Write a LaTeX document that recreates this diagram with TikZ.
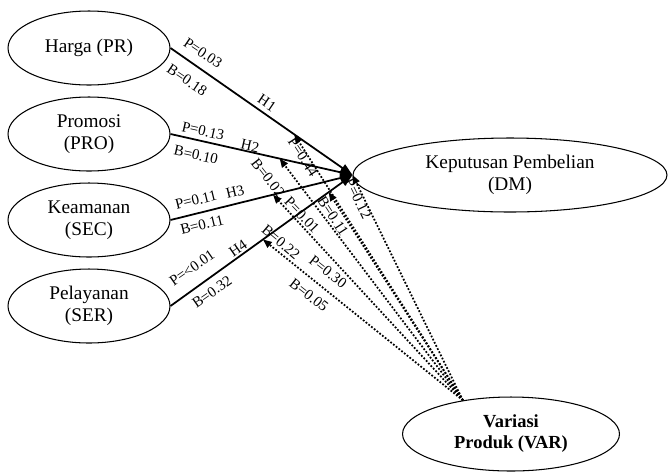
\documentclass[tikz,border=0pt]{standalone}
\usepackage{fontspec}
\setmainfont{Liberation Serif}
\usetikzlibrary{positioning, arrows.meta, shapes.geometric}

\begin{document}
\begin{tikzpicture}[x=0.02cm, y=-0.02cm,
  construct/.style={draw, ellipse, semithick, minimum width=3.24cm, minimum height=1.48cm,
                    inner sep=0pt, align=center, font=\fontsize{11}{12.5}\selectfont},
  hyp/.style={line width=1pt, -{Triangle[length=7pt, width=5pt]}},
  moder/.style={line width=1pt, densely dotted, -{Triangle[length=5pt, width=4pt]}},
  coef/.style={font=\fontsize{8.5}{10}\selectfont, inner sep=1pt},
]
  \useasboundingbox (0,0) rectangle (668,471);

  % Constructs
  \node[construct] (pr)  at (89,48)  {Harga (PR)};
  \node[construct] (pro) at (89,134) {Promosi\\(PRO)};
  \node[construct] (sec) at (89,220) {Keamanan\\(SEC)};
  \node[construct] (ser) at (89,306) {Pelayanan\\(SER)};
  \node[construct, minimum width=6.28cm] (dm) at (510,175) {Keputusan Pembelian\\(DM)};
  \node[construct, minimum width=4.34cm,
        font=\fontsize{10.5}{12}\selectfont\bfseries] (var) at (511,434) {Variasi\\Produk (VAR)};

  % Hypotheses H1-H4
  \draw[hyp] (pr.east)  -- coordinate[pos=.68] (m1) (dm.west);
  \draw[hyp] (pro.east) -- coordinate[pos=.6] (m2) (dm.west);
  \draw[hyp] (sec.east) -- coordinate[pos=.563] (m3) (dm.west);
  \draw[hyp] (ser.east) -- coordinate[pos=.508] (m4) coordinate[pos=.869] (m5) (dm.west);

  % Moderation by VAR
  \draw[moder] (var.145) -- (m1);
  \draw[moder] (var.145) -- (m2);
  \draw[moder] (var.145) -- (m3);
  \draw[moder] (var.145) -- (m4);
  \draw[moder] (var.145) -- (m5);
  \draw[moder] (var.145) -- (dm.west);

  % Coefficients on H1-H4
  \node[coef, rotate=-34] (p1) at (203,53)  {P=0.03};
  \node[coef, rotate=-34] (b1) at (187,80)  {B=0.18};
  \node[coef, rotate=-34] (h1) at (267,103) {H1};
  \node[coef, rotate=-12.6] (p2) at (203,131) {P=0.13};
  \node[coef, rotate=-12.6] (b2) at (196,155) {B=0.10};
  \node[coef, rotate=-12.6] (h2) at (250,146) {H2};
  \node[coef, rotate=13.8] (p3) at (196,200) {P=0.11};
  \node[coef, rotate=13.8] (h3) at (235,192) {H3};
  \node[coef, rotate=13.8] (b3) at (202,225) {B=0.11};
  \node[coef, rotate=35] (p4) at (192,268) {P=<0.01};
  \node[coef, rotate=35] (h4) at (238,248) {H4};
  \node[coef, rotate=35] (b4) at (212,292) {B=0.32};

  % Coefficients on moderation
  \node[coef, rotate=-57] (pm1) at (303,157) {P=0.44};
  \node[coef, rotate=-52] (bm2) at (268,178) {B=0.02};
  \node[coef, rotate=-46] (pm3) at (302,215) {P=0.01};
  \node[coef, rotate=-57] (bm5) at (333,216) {B=0.11};
  \node[coef, rotate=-64] (pv)  at (358,199) {P=0.12};
  \node[coef, rotate=-40] (bm4) at (281,242) {B=0.22};
  \node[coef, rotate=-38] (pm4) at (328,272) {P=0.30};
  \node[coef, rotate=-38] (bv)  at (309,295) {B=0.05};
\end{tikzpicture}
\end{document}
